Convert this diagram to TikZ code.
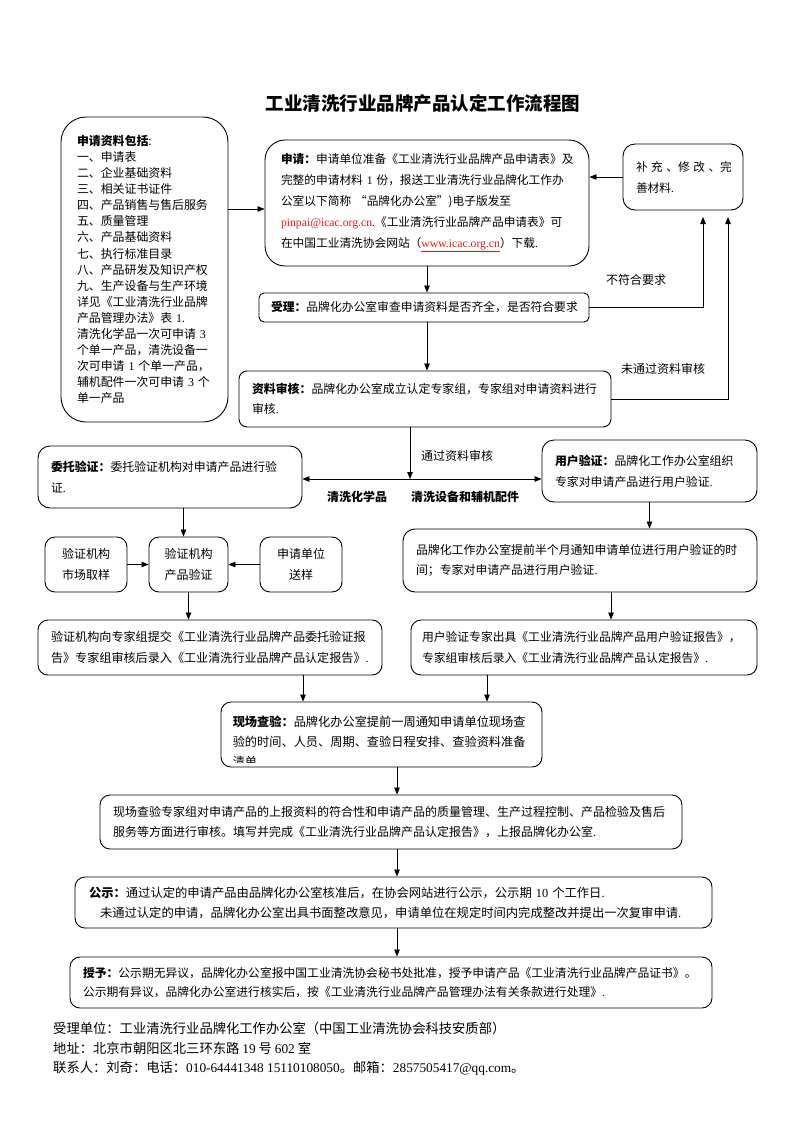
\documentclass[tikz,border=0pt]{standalone}
\usepackage{fontspec}
\setmainfont{Noto Sans CJK SC}
\newfontfamily\latf{Liberation Serif}
\usetikzlibrary{arrows.meta}
\newcommand\lat[1]{{\latf #1}}
\newcommand\fsz[2]{\fontsize{#1}{#2}\selectfont}
\definecolor{linkred}{RGB}{225,25,30}
\tikzset{
  bx/.style={draw, line width=0.9pt, align=left, inner ysep=2pt, font=\fsz{12}{20.5}},
  cbx/.style={draw, line width=0.9pt, align=center, inner sep=2pt, rounded corners=10pt,
     minimum width=82pt, minimum height=55pt, font=\fsz{12}{21}},
  arr/.style={line width=0.8pt, -{Triangle[length=7pt,width=5.5pt]}},
  lbl/.style={inner sep=0pt, font=\fsz{12}{14}},
}
\begin{document}
\begin{tikzpicture}[x=1pt,y=-1pt]
\useasboundingbox (0,0) rectangle (793,1122);
\fill[white] (0,0) rectangle (793,1122);

% title
\node[lbl, font=\fsz{18.5}{20}\bfseries] (title) at (423,103) {工业清洗行业品牌产品认定工作流程图};

% materials box
\node[bx, rounded corners=25pt, minimum width=167pt, minimum height=305pt, text width=135pt,
      inner xsep=16pt, font=\fsz{11.9}{16.07}] (mat) at (144.5,269.5)
 {\textbf{申请资料包括}:\\一、申请表\\二、企业基础资料\\三、相关证书证件\\四、产品销售与售后服务\\
  五、质量管理\\六、产品基础资料\\七、执行标准目录\\八、产品研发及知识产权\\九、生产设备与生产环境\\
  详见《工业清洗行业品牌\\产品管理办法》表 \lat{1.}\\清洗化学品一次可申请 \lat{3}\\个单一产品，清洗设备一\\
  次可申请 \lat{1} 个单一产品，\\辅机配件一次可申请 \lat{3} 个\\单一产品};

% application box
\node[bx, rounded corners=20pt, minimum width=324pt, minimum height=126pt, text width=292pt,
      inner xsep=16pt, font=\fsz{11.7}{21}] (req) at (427,203)
 {\textbf{申请：}申请单位准备《工业清洗行业品牌产品申请表》及\\
  完整的申请材料 \lat{1} 份，报送工业清洗行业品牌化工作办\\
  公室以下简称 “品牌化办公室”)电子版发至\\
  \textcolor{linkred}{\lat{pinpai@icac.org.cn}}\lat{.}《工业清洗行业品牌产品申请表》可\\
  在中国工业清洗协会网站（\textcolor{linkred}{\underline{\lat{www.icac.org.cn}}}）下载\lat{.}};

% supplement box
\node[bx, rounded corners=12pt, minimum width=120pt, minimum height=66pt, text width=94pt,
      inner xsep=13pt, font=\fsz{11.7}{21}] (sup) at (683,177)
 {补\kern3.5pt 充\kern3.5pt 、修\kern3.5pt 改\kern3.5pt 、完\\善材料\lat{.}};

% acceptance box
\node[bx, rounded corners=5pt, minimum width=330pt, minimum height=29pt, text width=306pt,
      inner xsep=12pt, font=\fsz{11.8}{14}] (acc) at (424,307.5)
 {\textbf{受理：}品牌化办公室审查申请资料是否齐全，是否符合要求};

% review box
\node[bx, rounded corners=8pt, minimum width=372pt, minimum height=56pt, text width=346pt,
      inner xsep=13pt, font=\fsz{11.9}{20}] (rev) at (425,399)
 {\textbf{资料审核：}品牌化办公室成立认定专家组，专家组对申请资料进行\\审核\lat{.}};

% entrusted verification
\node[bx, rounded corners=12pt, minimum width=264pt, minimum height=62pt, text width=238pt,
      inner xsep=13pt, font=\fsz{11.9}{21}] (ent) at (170,477)
 {\textbf{委托验证：}委托验证机构对申请产品进行验\\证\lat{.}};

% user verification
\node[bx, rounded corners=12pt, minimum width=215pt, minimum height=62pt, text width=189pt,
      inner xsep=13pt, font=\fsz{11.9}{21}] (usr) at (649.5,471)
 {\textbf{用户验证：}品牌化工作办公室组织\\专家对申请产品进行用户验证\lat{.}};

% three small boxes
\node[cbx] (b1) at (86,564.5) {验证机构\\市场取样};
\node[cbx, minimum width=79pt] (vb) at (188.5,564.5) {验证机构\\产品验证};
\node[cbx] (b3) at (301,564.5) {申请单位\\送样};

% notice box (user side)
\node[bx, rounded corners=12pt, minimum width=354pt, minimum height=63pt, text width=328pt,
      inner xsep=13pt, font=\fsz{11.9}{20}] (nb) at (580,560.5)
 {品牌化工作办公室提前半个月通知申请单位进行用户验证的时\\间；专家对申请产品进行用户验证\lat{.}};

% report boxes
\node[bx, rounded corners=10pt, minimum width=344pt, minimum height=55pt, text width=318pt,
      inner xsep=13pt, font=\fsz{12.1}{21}] (rep1) at (210,647.5)
 {验证机构向专家组提交《工业清洗行业品牌产品委托验证报\\告》专家组审核后录入《工业清洗行业品牌产品认定报告》\lat{.}};
\node[bx, rounded corners=10pt, minimum width=346pt, minimum height=55pt, text width=324pt,
      inner xsep=11pt, font=\fsz{11.8}{21}] (rep2) at (584,647.5)
 {用户验证专家出具《工业清洗行业品牌产品用户验证报告》，\\专家组审核后录入《工业清洗行业品牌产品认定报告》\lat{.}};

% site inspection (text clipped)
\node[bx, rounded corners=10pt, minimum width=321pt, minimum height=65pt] (site) at (381.5,734.5) {};
\begin{scope}
\clip ([yshift=5pt]site.south west) rectangle (site.north east);
\node[lbl, anchor=north west, align=left, text width=300pt, font=\fsz{12.2}{20}] (sitetxt)
  at ([xshift=12pt,yshift=-14pt]site.north west)
 {\textbf{现场查验：}品牌化办公室提前一周通知申请单位现场查\\验的时间、人员、周期、查验日程安排、查验资料准备\\清单};
\end{scope}

% expert review
\node[bx, rounded corners=10pt, minimum width=582pt, minimum height=54pt, text width=556pt,
      inner xsep=13pt, font=\fsz{12}{20}] (exp) at (391,822)
 {现场查验专家组对申请产品的上报资料的符合性和申请产品的质量管理、生产过程控制、产品检验及售后\\
  服务等方面进行审核。填写并完成《工业清洗行业品牌产品认定报告》，上报品牌化办公室\lat{.}};

% publicity
\node[bx, rounded corners=10pt, minimum width=637pt, minimum height=51pt, text width=609pt,
      inner xsep=14pt, font=\fsz{12.3}{20}] (pub) at (393.5,902.5)
 {\textbf{公示：}通过认定的申请产品由品牌化办公室核准后，在协会网站进行公示，公示期 \lat{10} 个工作日\lat{.}\\
  \hspace*{11pt}未通过认定的申请，品牌化办公室出具书面整改意见，申请单位在规定时间内完成整改并提出一次复审申请\lat{.}};

% grant
\node[bx, rounded corners=10pt, minimum width=642pt, minimum height=51pt, text width=616pt,
      inner xsep=13pt, font=\fsz{11.8}{19.5}] (grant) at (391,982.5)
 {\textbf{授予：}公示期无异议，品牌化办公室报中国工业清洗协会秘书处批准，授予申请产品《工业清洗行业品牌产品证书》。\\
  公示期有异议，品牌化办公室进行核实后，按《工业清洗行业品牌产品管理办法有关条款进行处理》\lat{.}};

% footer
\node[lbl, anchor=west, font=\fsz{13.3}{16}] (f1) at (53,1028) {受理单位：工业清洗行业品牌化工作办公室（中国工业清洗协会科技安质部）};
\node[lbl, anchor=west, font=\fsz{13.3}{16}] (f2) at (53,1048) {地址：北京市朝阳区北三环东路 \lat{19} 号 \lat{602} 室};
\node[lbl, anchor=west, font=\fsz{13.3}{16}] (f3) at (53,1068) {联系人：刘奇：电话：\lat{010-64441348 15110108050}。邮箱：\lat{2857505417@qq.com}。};

% labels
\node[lbl] (l1) at (636,280) {不符合要求};
\node[lbl] (l2) at (663,369) {未通过资料审核};
\node[lbl, anchor=west] (l3) at (421,456) {通过资料审核};
\node[lbl, font=\fsz{12}{14}\bfseries] (l4) at (357,497) {清洗化学品};
\node[lbl, font=\fsz{12}{14}\bfseries] (l5) at (465,497) {清洗设备和辅机配件};

% coordinates
\coordinate (c1) at (703,217);
\coordinate (c2) at (728,217);
\coordinate (j) at (410,479);
\coordinate (ma) at ([yshift=-6pt]req.west);
\coordinate (eb) at ([xshift=-5pt]vb.north);
\coordinate (nbx) at ([xshift=31pt]nb.south);
\coordinate (s1) at ([xshift=-78.5pt]site.north);
\coordinate (s2) at ([xshift=105.5pt]site.north);
\coordinate (ex) at ([xshift=6pt]exp.north);

% connectors
\draw[arr] (mat.east |- ma) -- (ma);
\draw[arr] (sup.west) -- (sup.west -| req.east);
\draw[arr] (req.south) -- (req.south |- acc.north);
\draw[arr] (req.south |- acc.south) -- (req.south |- rev.north);
\draw[arr] (acc.east) -| (c1);
\draw[arr] (rev.east) -| (c2);
\draw[arr] (j |- rev.south) -- (j);
\draw[arr] (j) -- (j -| ent.east);
\draw[arr] (j) -- (j -| usr.west);
\draw[arr] (eb |- ent.south) -- (eb);
\draw[arr] (b1.east) -- (vb.west);
\draw[arr] (b3.west) -- (vb.east);
\draw[arr] (vb.south) -- (vb.south |- rep1.north);
\draw[arr] (usr.south) -- (usr.south |- nb.north);
\draw[arr] (nbx) -- (nbx |- rep2.north);
\draw[arr] (s1 |- rep1.south) -- (s1);
\draw[arr] (s2 |- rep2.south) -- (s2);
\draw[arr] (ex |- site.south) -- (ex);
\draw[arr] (ex |- exp.south) -- (ex |- pub.north);
\draw[arr] (ex |- pub.south) -- (ex |- grant.north);
\end{tikzpicture}
\end{document}
